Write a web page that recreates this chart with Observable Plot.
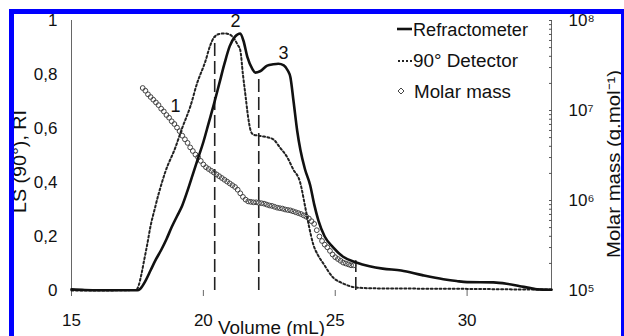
<!DOCTYPE html>
<html>
<head>
<meta charset="utf-8">
<script src="https://cdn.jsdelivr.net/npm/d3@7"></script>
<script src="https://cdn.jsdelivr.net/npm/@observablehq/plot@0.6"></script>
<style>
  html, body { margin: 0; padding: 0; background: #fff; overflow: hidden; width: 624px; height: 336px; }
  #wrap { position: relative; width: 624px; height: 336px; font-family: "Liberation Sans", Arial, sans-serif; }
  #chart { position: absolute; left: 0; top: 0; }
  #overlay { position: absolute; left: 0; top: 0; pointer-events: none; }
  #border { position: absolute; left: 9px; top: 9px; width: 617px; height: 400px; border: 5px solid #0000ff; box-sizing: border-box; pointer-events: none; }
</style>
</head>
<body>
<div id="wrap">
  <div id="chart"></div>
  <svg id="overlay" width="624" height="336"></svg>
  <div id="border"></div>
</div>
<script>
// ---------- Data ----------
const seriesNames = ["Refractometer", "90° Detector", "Molar mass"];
const xTitle = "Volume (mL)";
const yLeftTitle = "LS (90°), RI";
const yRightTitle = "Molar mass (g.mol⁻¹)";

// Refractometer (RI) trace
const riVolume = [15, 15.5, 16, 17, 17.5, 17.6, 17.8, 18.0, 18.2, 18.4, 18.6, 18.8, 19.0, 19.2, 19.4,
  19.6, 19.8, 20.0, 20.2, 20.4, 20.6, 20.8, 21.0, 21.2, 21.4, 21.52, 21.67, 21.86, 21.97, 22.15,
  22.42, 22.65, 22.84, 23.05, 23.2, 23.3, 23.42, 23.56, 23.68, 23.85, 24.05, 24.2, 24.36, 24.6, 24.92,
  25.3, 25.8, 26.3, 26.8, 27.5, 28.3, 29.1, 29.6, 30.0, 31.0, 31.5, 32.0, 32.4, 32.65, 33.2];
const riSignal = [0.004, 0.002, 0.001, 0.001, 0.001, 0.006, 0.035, 0.075, 0.115, 0.15, 0.19, 0.235, 0.275, 0.315, 0.37,
  0.43, 0.49, 0.55, 0.62, 0.69, 0.765, 0.84, 0.905, 0.94, 0.952, 0.925, 0.864, 0.82, 0.807, 0.812,
  0.833, 0.838, 0.84, 0.834, 0.815, 0.79, 0.70, 0.59, 0.52, 0.45, 0.39, 0.32, 0.26, 0.20, 0.16,
  0.125, 0.104, 0.09, 0.081, 0.074, 0.057, 0.042, 0.035, 0.031, 0.030, 0.025, 0.016, 0.009, 0.004, 0.003];

// 90° light-scattering detector trace
const lsVolume = [15, 16, 17, 17.45, 17.55, 17.65, 17.75, 17.87, 18.0, 18.15, 18.31, 18.56, 18.94, 19.19, 19.5,
  19.77, 20.08, 20.25, 20.4, 20.6, 20.8, 21.0, 21.15, 21.3, 21.4, 21.5, 21.6, 21.7, 21.8, 21.9,
  22.05, 22.3, 22.65, 22.9, 23.2, 23.4, 23.67, 23.86, 24.0, 24.17, 24.35, 24.55, 24.9, 25.3, 25.8,
  26.5, 28, 30, 31, 32, 33.2];
const lsSignal = [0, 0, 0.001, 0.002, 0.02, 0.06, 0.11, 0.17, 0.24, 0.30, 0.36, 0.44, 0.53, 0.60, 0.68,
  0.77, 0.85, 0.905, 0.937, 0.95, 0.952, 0.948, 0.935, 0.91, 0.89, 0.80, 0.72, 0.64, 0.59, 0.577,
  0.574, 0.57, 0.56, 0.53, 0.49, 0.45, 0.40, 0.31, 0.24, 0.17, 0.13, 0.10, 0.05, 0.026, 0.011,
  0.008, 0.007, 0.006, 0.005, 0.004, 0.004];

// Molar mass (log10 of g/mol)
const mmVolume = [17.7, 17.8, 17.9, 18.0, 18.1, 18.2, 18.3, 18.4, 18.5, 18.6, 18.7, 18.8, 18.9, 19.0, 19.1,
  19.2, 19.3, 19.4, 19.5, 19.6, 19.7, 19.8, 19.9, 20.0, 20.1, 20.2, 20.3, 20.4, 20.5, 20.6,
  20.7, 20.8, 20.9, 21.0, 21.1, 21.2, 21.3, 21.4, 21.5, 21.6, 21.7, 21.8, 21.9, 22.0, 22.1,
  22.2, 22.3, 22.4, 22.5, 22.6, 22.7, 22.8, 22.9, 23.0, 23.1, 23.2, 23.3, 23.4, 23.5, 23.6,
  23.7, 23.8, 23.9, 24.0, 24.1, 24.2, 24.3, 24.4, 24.5, 24.6, 24.7, 24.8, 24.9, 25.0, 25.1,
  25.2, 25.3, 25.4, 25.5, 25.6, 25.7];
const mmLog10 = [7.25, 7.22, 7.18, 7.15, 7.12, 7.09, 7.06, 7.02, 6.99, 6.95, 6.92, 6.88, 6.85, 6.81, 6.77,
  6.72, 6.68, 6.64, 6.59, 6.55, 6.51, 6.48, 6.44, 6.40, 6.37, 6.35, 6.33, 6.31, 6.29, 6.27,
  6.25, 6.23, 6.21, 6.19, 6.17, 6.15, 6.12, 6.08, 6.04, 6.01, 5.99, 5.985, 5.98, 5.98, 5.975,
  5.97, 5.965, 5.955, 5.945, 5.94, 5.93, 5.92, 5.915, 5.91, 5.90, 5.895, 5.89, 5.88, 5.87, 5.86,
  5.85, 5.835, 5.82, 5.80, 5.77, 5.74, 5.67, 5.60, 5.55, 5.51, 5.48, 5.44, 5.40, 5.37, 5.35,
  5.33, 5.31, 5.30, 5.29, 5.28, 5.28];

// Fraction cut lines (dashed) and peak labels
const cutVolume = [20.43, 22.1, 25.78];
const cutTop = [0.937, 0.80, 0.11];
const peakLabels = ["1", "2", "3"];
const peakVolume = [18.94, 21.22, 23.04];
const peakSignal = [0.681, 0.996, 0.88];

// Axes
const xDomain = [15, 33.2];
const xTicks = [15, 20, 25, 30];
const yTicks = [0, 0.2, 0.4, 0.6, 0.8, 1];
const massExponents = [5, 6, 7, 8];

// ---------- Derived tables ----------
const riData = riVolume.map((v, i) => ({volume: v, signal: riSignal[i]}));
const lsData = lsVolume.map((v, i) => ({volume: v, signal: lsSignal[i]}));
const mmData = mmVolume.map((v, i) => ({volume: v, logM: mmLog10[i]}));
const cuts = cutVolume.map((v, i) => ({volume: v, top: cutTop[i]}));
const peaks = peakLabels.map((t, i) => ({label: t, volume: peakVolume[i], signal: peakSignal[i]}));

// molar mass (log) mapped on the shared 0..1 vertical scale: 1e5 -> 0, 1e8 -> 1
const lo = massExponents[0], hi = massExponents[massExponents.length - 1];
const massToY = lg => (lg - lo) / (hi - lo);
const majorMass = massExponents.map(e => massToY(e));
const minorMass = [];
for (let e = lo; e < hi; e++) for (let k = 2; k <= 9; k++) minorMass.push(massToY(e + Math.log10(k)));
const supDigits = {"5": "⁵", "6": "⁶", "7": "⁷", "8": "⁸"};
const fmtComma = d => d === 0 ? "0" : d === 1 ? "1" : d3.format(".1f")(d).replace(".", ",");

const chart = Plot.plot({
  width: 624,
  height: 336,
  marginLeft: 71,
  marginRight: 73,
  marginTop: 20,
  marginBottom: 46,
  x: {domain: xDomain},
  y: {domain: [0, 1]},
  style: {fontFamily: "'Liberation Sans', Arial, sans-serif", fontSize: "17px", color: "#111", background: "transparent", overflow: "visible"},
  marks: [
    Plot.ruleX(xDomain, {y1: 0, y2: 1, stroke: "#666", strokeWidth: 1}),
    Plot.axisX(xTicks, {anchor: "bottom", tickSize: 6, tickPadding: 17, label: null, fontSize: 17, stroke: "#666", tickFormat: d => String(d)}),
    Plot.axisY(yTicks, {anchor: "left", tickSize: 0, tickPadding: 14, label: null, fontSize: 17, tickFormat: fmtComma}),
    Plot.axisY(majorMass, {anchor: "right", tickSize: 0, tickPadding: 17, label: null, fontSize: 17,
      tickFormat: v => "10" + supDigits[String(Math.round(v * (hi - lo) + lo))]}),
    Plot.axisY(minorMass.concat(majorMass), {anchor: "right", tickSize: -3, label: null, stroke: "#555", tickFormat: () => ""}),
    Plot.ruleX(cuts, {x: "volume", y1: 0, y2: "top", stroke: "#222", strokeWidth: 1.6, strokeDasharray: "13,5"}),
    Plot.dot(mmData, {x: "volume", y: d => massToY(d.logM), r: 2.4, stroke: "#444", strokeWidth: 1, fill: "none"}),
    Plot.line(lsData, {x: "volume", y: "signal", stroke: "#222", strokeWidth: 2, strokeDasharray: "2,2.4", curve: "monotone-x"}),
    Plot.line(riData, {x: "volume", y: "signal", stroke: "#111", strokeWidth: 2.6, curve: "monotone-x"}),
    Plot.text(peaks, {x: "volume", y: "signal", text: "label", fontSize: 18, fill: "#111"})
  ]
});
document.getElementById("chart").appendChild(chart);

// ---------- Legend and axis titles (overlay) ----------
const ns = "http://www.w3.org/2000/svg";
const ov = document.getElementById("overlay");
function el(tag, attrs, text) {
  const e = document.createElementNS(ns, tag);
  for (const k in attrs) e.setAttribute(k, attrs[k]);
  if (text != null) e.textContent = text;
  ov.appendChild(e);
  return e;
}
const font = "'Liberation Sans', Arial, sans-serif";
// legend rows
const legendLengths = [115, 105, 97];
seriesNames.forEach((name, i) => {
  const cy = 29 + i * 31;
  if (i === 0) el("line", {x1: 397, x2: 412, y1: cy, y2: cy, stroke: "#111", "stroke-width": 2.6});
  if (i === 1) el("line", {x1: 398, x2: 412, y1: cy + 1, y2: cy + 1, stroke: "#222", "stroke-width": 2, "stroke-dasharray": "2,2"});
  if (i === 2) el("path", {d: `M${401},${cy - 3}L${404},${cy}L${401},${cy + 3}L${398},${cy}Z`, fill: "none", stroke: "#444", "stroke-width": 1});
  el("text", {x: i === 2 ? 414 : 413, y: cy + 6.5, "font-family": font, "font-size": 18, fill: "#111",
    textLength: legendLengths[i], lengthAdjust: "spacingAndGlyphs"}, name);
});
// axis titles
el("text", {x: 271.5, y: 334, "font-family": font, "font-size": 18, fill: "#111", "text-anchor": "middle",
  textLength: 107, lengthAdjust: "spacingAndGlyphs"}, xTitle);
el("text", {transform: "translate(26,161.5) rotate(-90)", "font-family": font, "font-size": 18, fill: "#111",
  "text-anchor": "middle", textLength: 103, lengthAdjust: "spacingAndGlyphs"}, yLeftTitle);
el("text", {transform: "translate(620,164) rotate(-90)", "font-family": font, "font-size": 18, fill: "#111",
  "text-anchor": "middle", textLength: 188, lengthAdjust: "spacingAndGlyphs"}, yRightTitle);
</script>
</body>
</html>
